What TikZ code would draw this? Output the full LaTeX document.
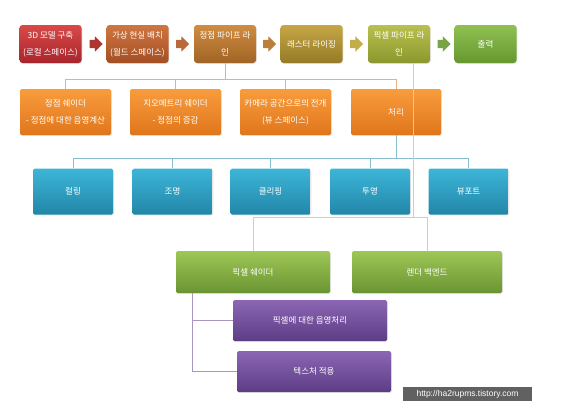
\documentclass[tikz,border=0pt]{standalone}
\usepackage{fontspec}
\usepackage{tikz}
\usetikzlibrary{shapes.arrows,shadows}
\newfontfamily\krfont{Noto Sans CJK KR}
\newcommand{\boxFont}[0]{\krfont\fontsize{8.5}{17}\selectfont}
\newcommand{\lineWidth}[0]{0.8pt}
\definecolor{lineOrange}{HTML}{E9AE86}
\definecolor{lineBlue}{HTML}{86BDD0}
\definecolor{lineGreen}{HTML}{CDD3A8}
\definecolor{linePurple}{HTML}{A994C2}
\definecolor{redTop}{HTML}{D84A48}
\definecolor{redBottom}{HTML}{A8242C}
\definecolor{rustTop}{HTML}{CF7640}
\definecolor{rustBottom}{HTML}{A44E24}
\definecolor{amberTop}{HTML}{D08C42}
\definecolor{amberBottom}{HTML}{A06425}
\definecolor{goldTop}{HTML}{C6A646}
\definecolor{goldBottom}{HTML}{967B26}
\definecolor{limeTop}{HTML}{B8C04E}
\definecolor{limeBottom}{HTML}{8B982D}
\definecolor{leafTop}{HTML}{90C052}
\definecolor{leafBottom}{HTML}{66982F}
\definecolor{orangeTop}{HTML}{F89C3C}
\definecolor{orangeBottom}{HTML}{E0761C}
\definecolor{cyanTop}{HTML}{3DB6D8}
\definecolor{cyanBottom}{HTML}{2286A8}
\definecolor{greenTop}{HTML}{9EC756}
\definecolor{greenBottom}{HTML}{6A9432}
\definecolor{purpleTop}{HTML}{8C66B4}
\definecolor{purpleBottom}{HTML}{5C3D85}

\begin{document}
\begin{tikzpicture}[x=1pt, y=-1pt]
  \tikzset{box/.style={text=white, align=center, font=\boxFont, inner sep=0pt,
      rounded corners=1.5pt, drop shadow={opacity=0.2, shadow xshift=0.8pt, shadow yshift=-0.8pt}},
    stage/.style={box, minimum width=62pt, minimum height=38pt, rounded corners=3pt},
    blockarrow/.style={single arrow, inner sep=4pt, minimum height=13pt,
      single arrow head extend=3.5pt}}
  \useasboundingbox (0,0) rectangle (571,410);
  % pipeline
  \node[stage, top color=redTop, bottom color=redBottom] (stage-1) at (50.5,44) {3D 모델 구축\\(로컬 스페이스)};
  \node[stage, top color=rustTop, bottom color=rustBottom] (stage-2) at (137.5,44) {가상 현실 배치\\(월드 스페이스)};
  \node[stage, top color=amberTop, bottom color=amberBottom] (stage-3) at (225,44) {정점 파이프 라\\인};
  \node[stage, top color=goldTop, bottom color=goldBottom] (stage-4) at (311.5,44) {래스터 라이징};
  \node[stage, top color=limeTop, bottom color=limeBottom] (stage-5) at (399,44) {픽셀 파이프 라\\인};
  \node[stage, top color=leafTop, bottom color=leafBottom] (stage-6) at (485.5,44) {출력};
  \node[blockarrow, fill=redBottom!80!rustTop] (arr-1) at (94,44) {};
  \node[blockarrow, fill=rustTop!90!black] (arr-2) at (180.5,44) {};
  \node[blockarrow, fill=amberTop!90!black] (arr-3) at (267.5,44) {};
  \node[blockarrow, fill=goldTop!70!limeTop] (arr-4) at (354.5,44) {};
  \node[blockarrow, fill=leafTop!85!black] (arr-5) at (442,44) {};
  % vertex pipeline
  \node[box, minimum width=91pt, minimum height=46pt, top color=orangeTop, bottom color=orangeBottom] (vs-1) at (65.5,112) {정점 쉐이더\\- 정점에 대한 음영계산};
  \node[box, minimum width=91pt, minimum height=46pt, top color=orangeTop, bottom color=orangeBottom] (vs-2) at (175.5,112) {지오메트리 쉐이더\\- 정점의 증감};
  \node[box, minimum width=91pt, minimum height=46pt, top color=orangeTop, bottom color=orangeBottom] (vs-3) at (285.5,112) {카메라 공간으로의 전개\\(뷰 스페이스)};
  \node[box, minimum width=90pt, minimum height=46pt, top color=orangeTop, bottom color=orangeBottom] (vs-4) at (396,112) {처리};
  \node[box, minimum width=80pt, minimum height=46pt, top color=cyanTop, bottom color=cyanBottom] (proc-1) at (73,191.5) {컬링};
  \node[box, minimum width=80pt, minimum height=46pt, top color=cyanTop, bottom color=cyanBottom] (proc-2) at (172.5,191.5) {조명};
  \node[box, minimum width=80pt, minimum height=46pt, top color=cyanTop, bottom color=cyanBottom] (proc-3) at (270.5,191.5) {클리핑};
  \node[box, minimum width=80pt, minimum height=46pt, top color=cyanTop, bottom color=cyanBottom] (proc-4) at (370,191.5) {투영};
  \node[box, minimum width=80pt, minimum height=46pt, top color=cyanTop, bottom color=cyanBottom] (proc-5) at (468.5,191.5) {뷰포트};
  % pixel pipeline
  \node[box, minimum width=154pt, minimum height=42pt, top color=greenTop, bottom color=greenBottom] (px-1) at (253,272) {픽셀 쉐이더};
  \node[box, minimum width=150pt, minimum height=42pt, top color=greenTop, bottom color=greenBottom] (px-2) at (427,272) {렌더 백엔드};
  \node[box, minimum width=154pt, minimum height=41pt, top color=purpleTop, bottom color=purpleBottom] (shade-1) at (310,320.5) {픽셀에 대한 음영처리};
  \node[box, minimum width=154pt, minimum height=41pt, top color=purpleTop, bottom color=purpleBottom] (shade-2) at (314,371.5) {텍스처 적용};
  \node[fill=black!62, text=white, font=\fontspec{Liberation Sans}\fontsize{8.5}{10}\selectfont, minimum width=129pt, minimum height=14pt, inner sep=0pt] (mark) at (467.5,394) {http://ha2rupms.tistory.com};
  \coordinate (v-bus) at (225,79);
  \coordinate (c-bus) at (396,158);
  \coordinate (p-drop) at (413,63);
  \coordinate (p-bus) at (413,217);
  \coordinate (s-bus) at (192,293);
  \draw[lineOrange, line width=\lineWidth] (stage-3.south) -- (v-bus);
  \draw[lineOrange, line width=\lineWidth] (vs-1.north) |- (v-bus);
  \draw[lineOrange, line width=\lineWidth] (vs-2.north) |- (v-bus);
  \draw[lineOrange, line width=\lineWidth] (vs-3.north) |- (v-bus);
  \draw[lineOrange, line width=\lineWidth] (vs-4.north) |- (v-bus);
  \draw[lineBlue, line width=\lineWidth] (vs-4.south) -- (c-bus);
  \draw[lineBlue, line width=\lineWidth] (proc-1.north) |- (c-bus);
  \draw[lineBlue, line width=\lineWidth] (proc-2.north) |- (c-bus);
  \draw[lineBlue, line width=\lineWidth] (proc-3.north) |- (c-bus);
  \draw[lineBlue, line width=\lineWidth] (proc-4.north) |- (c-bus);
  \draw[lineBlue, line width=\lineWidth] (proc-5.north) |- (c-bus);
  \draw[lineGreen, line width=\lineWidth] (p-drop) -- (p-bus);
  \draw[lineGreen, line width=\lineWidth] (px-1.north) |- (p-bus);
  \draw[lineGreen, line width=\lineWidth] (px-2.north) |- (p-bus);
  \draw[linePurple, line width=\lineWidth] (s-bus) |- (shade-1.west);
  \draw[linePurple, line width=\lineWidth] (s-bus) |- (shade-2.west);
\end{tikzpicture}
\end{document}
